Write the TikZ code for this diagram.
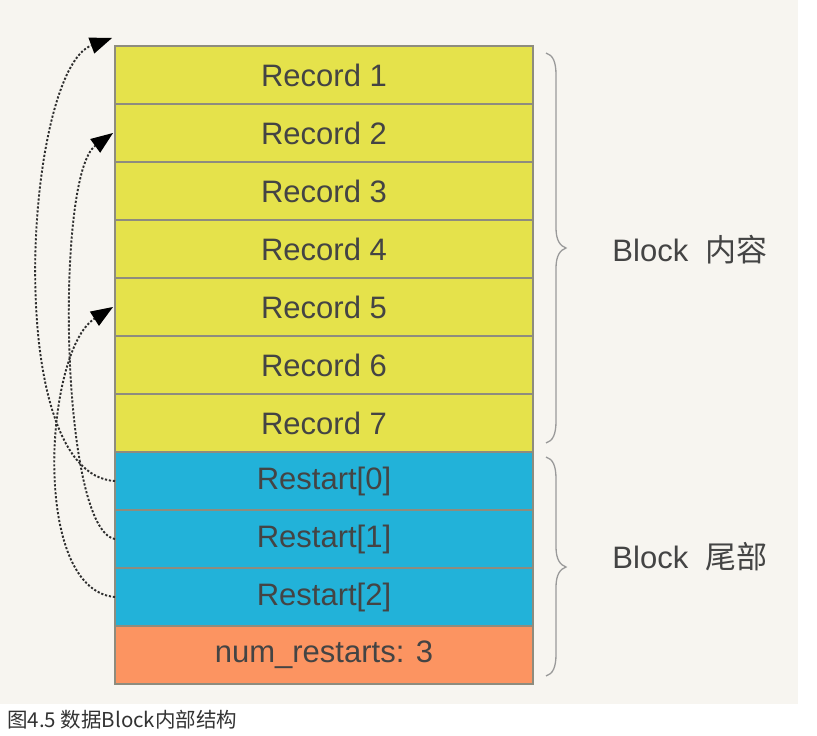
\documentclass[tikz,border=0pt]{standalone}
\usepackage{fontspec}
\setmainfont{Liberation Sans}
\newfontfamily\cjk{Noto Sans CJK SC}
\usetikzlibrary{arrows.meta,calc}
\definecolor{bgc}{HTML}{F7F5F0}
\definecolor{yel}{HTML}{E5E24B}
\definecolor{blu}{HTML}{22B2D9}
\definecolor{ora}{HTML}{FC9461}
\definecolor{bordc}{HTML}{8E8C7E}
\definecolor{txt}{HTML}{444444}
\definecolor{dotc}{HTML}{2E2E2E}
\definecolor{bracec}{HTML}{9A9A9A}
\definecolor{capc}{HTML}{333333}
\tikzset{
  cell/.style={draw=bordc, line width=1.3pt, minimum width=418pt, minimum height=58pt,
    inner sep=0pt, outer sep=0pt, anchor=north west, text=txt,
    font=\fontsize{31}{36}\selectfont},
  conn/.style={draw=dotc, line width=1.9pt, dash pattern=on 2.2pt off 1.8pt,
    -{Triangle[length=22pt,width=17pt,color=black,line width=0pt]}},
  bracepath/.style={draw=bracec, line width=1.3pt},
  sidelbl/.style={text=txt, font=\fontsize{31}{36}\selectfont, inner sep=0pt}
}
\begin{document}
\begin{tikzpicture}[x=1pt,y=-1pt]
\useasboundingbox (0,0) rectangle (817,736);
\fill[white] (0,0) rectangle (817,736);
\fill[bgc] (0,0) rectangle (798,704);

\node[cell, fill=yel] (r1) at (115,46)  {Record 1};
\node[cell, fill=yel] (r2) at (115,104) {Record 2};
\node[cell, fill=yel] (r3) at (115,162) {Record 3};
\node[cell, fill=yel] (r4) at (115,220) {Record 4};
\node[cell, fill=yel] (r5) at (115,278) {Record 5};
\node[cell, fill=yel] (r6) at (115,336) {Record 6};
\node[cell, fill=yel] (r7) at (115,394) {Record 7};
\node[cell, fill=blu] (s0) at (115,452) {Restart[0]};
\node[cell, fill=blu] (s1) at (115,510) {Restart[1]};
\node[cell, fill=blu] (s2) at (115,568) {Restart[2]};
\node[cell, fill=ora] (n)  at (115,626) {num\_restarts: 3};

% braces
\draw[bracepath] (546,53) .. controls (553,55) and (556,62) .. (556,75) -- (556,228)
  .. controls (556,240) and (560,246) .. (566,248)
  .. controls (560,250) and (556,256) .. (556,268) -- (556,421)
  .. controls (556,434) and (553,441) .. (546,443);
\draw[bracepath] (546,457) .. controls (553,459) and (556,466) .. (556,479) -- (556,547)
  .. controls (556,559) and (560,565) .. (566,567)
  .. controls (560,569) and (556,575) .. (556,587) -- (556,654)
  .. controls (556,667) and (553,674) .. (546,676);

\node[sidelbl] (t1) at (690,250) {Block\ \ {\cjk 内容}};
\node[sidelbl] (t2) at (690,557) {Block\ \ {\cjk 尾部}};

% restart pointers
\draw[conn] (s0.west) .. controls (0,475) and (25,70) .. ($(r1.north west)+(-3,-8)$);
\draw[conn] (s1.west) .. controls (60,530) and (55,175) .. ($(r2.west)+(-2,0)$);
\draw[conn] (s2.west) .. controls (30,590) and (45,350) .. ($(r5.west)+(-2,0)$);

\node[anchor=west, inner sep=0pt, text=capc, font=\cjk\fontsize{20.5}{24}\selectfont] (cap) at (7,720) {图4.5 数据Block内部结构};
\end{tikzpicture}
\end{document}
